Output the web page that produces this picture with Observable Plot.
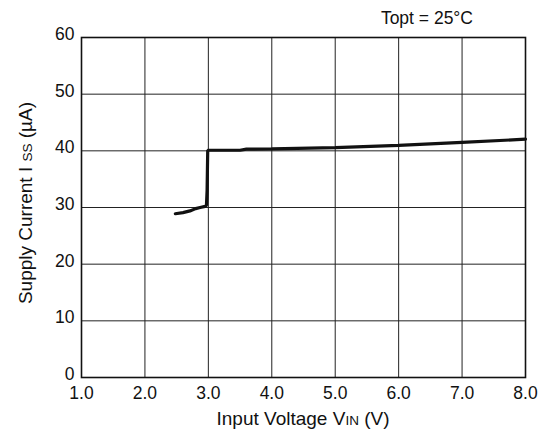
<!DOCTYPE html>
<html>
<head>
<meta charset="utf-8">
<script src="https://cdn.jsdelivr.net/npm/d3@7"></script>
<script src="https://cdn.jsdelivr.net/npm/@observablehq/plot@0.6"></script>
<style>
  html, body { margin: 0; padding: 0; background: #fff; }
  svg { font-family: "Liberation Sans", Arial, Helvetica, sans-serif; }
</style>
</head>
<body>
<div id="chart"></div>
<script>
// Input voltage (V) and supply current (µA)
const vin = [2.48, 2.6, 2.71, 2.8, 2.87, 2.95, 2.97, 2.98, 2.99, 3.0, 3.5, 3.6, 4.0, 5.0, 6.0, 7.0, 8.0];
const iss = [28.9, 29.1, 29.4, 29.8, 30.0, 30.2, 30.4, 33.0, 40.1, 40.1, 40.1, 40.3, 40.35, 40.55, 40.95, 41.5, 42.05];
const xTicks = [1, 2, 3, 4, 5, 6, 7, 8];
const yTicks = [0, 10, 20, 30, 40, 50, 60];
const titleText = "Topt = 25°C";

const data = vin.map((v, i) => ({v, i: iss[i]}));

const W = 547, H = 432;
const mL = 81, mR = 22, mT = 37, mB = 55;

const plot = Plot.plot({
  width: W,
  height: H,
  marginLeft: mL,
  marginRight: mR,
  marginTop: mT,
  marginBottom: mB,
  style: {fontFamily: '"Liberation Sans", Arial, Helvetica, sans-serif', fontSize: "17.5px", color: "#111", background: "#fff"},
  x: {domain: [1, 8], ticks: xTicks, tickFormat: d3.format(".1f"), label: null, tickSize: 0, tickPadding: 9},
  y: {domain: [0, 60], ticks: yTicks, label: null, tickSize: 0, tickPadding: 7},
  marks: [
    Plot.gridX(xTicks, {stroke: "#222", strokeOpacity: 1, strokeWidth: 1}),
    Plot.gridY(yTicks, {stroke: "#222", strokeOpacity: 1, strokeWidth: 1}),
    Plot.frame({stroke: "#111", strokeWidth: 1.6}),
    Plot.axisY(yTicks, {tickSize: 0, tickPadding: 7, dy: -3, label: null}),
    Plot.axisX(xTicks, {tickSize: 0, tickPadding: 9, tickFormat: d3.format(".1f"), label: null}),
    Plot.line(data, {x: "v", y: "i", stroke: "#111", strokeWidth: 3.2, strokeLinejoin: "miter"})
  ]
});

document.getElementById("chart").appendChild(plot);

const svg = d3.select(plot);

// Title (condition)
svg.append("text")
  .attr("x", 473).attr("y", 24)
  .attr("text-anchor", "end")
  .attr("font-size", 17.5).attr("fill", "#111")
  .text(titleText);

// Axis labels with small-caps style subscripts
const fx = (mL + (W - mR)) / 2;
const xl = svg.append("text")
  .attr("x", fx).attr("y", 425)
  .attr("text-anchor", "middle")
  .attr("font-size", 19).attr("fill", "#111");
xl.append("tspan").text("Input Voltage V");
xl.append("tspan").attr("font-size", 13.5).text("IN");
xl.append("tspan").text(" (V)");

const yl = svg.append("text")
  .attr("transform", "translate(31.5,203) rotate(-90)")
  .attr("text-anchor", "middle")
  .attr("font-size", 19).attr("fill", "#111");
yl.append("tspan").text("Supply Current I ");
yl.append("tspan").attr("font-size", 13.5).text("SS");
yl.append("tspan").text(" (µA)");
</script>
</body>
</html>
